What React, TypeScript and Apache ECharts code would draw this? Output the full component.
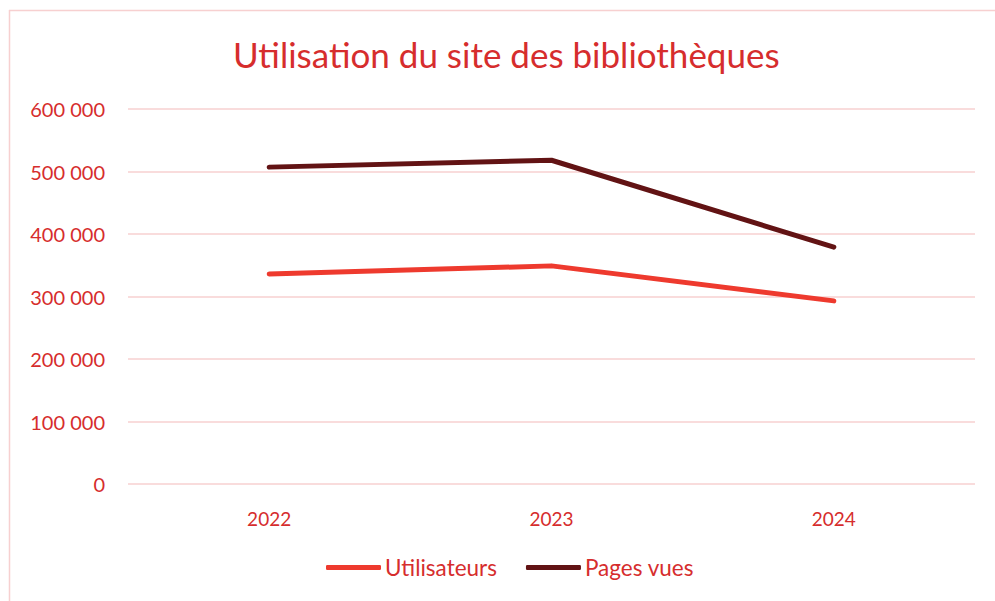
import React, { useEffect, useRef } from "react";
import * as echarts from "echarts";

const years = ["2022", "2023", "2024"];
const utilisateurs = [336000, 349000, 293000];
const pagesVues = [507000, 518000, 379000];
const yTicks = { min: 0, max: 600000, interval: 100000 };

const RED_TEXT = "#d62d2d";
const GRID = "#f7d0d0";
const FONT = "Lato";

function fmt(v: number): string {
  return String(v).replace(/\B(?=(\d{3})+(?!\d))/g, " ");
}

export default function App() {
  const ref = useRef<HTMLDivElement>(null);
  useEffect(() => {
    document.body.style.margin = "0";
    const chart = echarts.init(ref.current!, null, { renderer: "svg" });
    chart.setOption({
      animation: false,
      backgroundColor: "#ffffff",
      textStyle: { fontFamily: FONT },
      title: {
        text: "Utilisation du site des bibliothèques",
        left: 228,
        top: 31,
        textStyle: { color: RED_TEXT, fontSize: 35, fontWeight: "normal", fontFamily: FONT },
      },
      graphic: [
        { type: "line", shape: { x1: 9, y1: 10.5, x2: 995, y2: 10.5 }, style: { stroke: GRID, lineWidth: 1.5 } },
        { type: "line", shape: { x1: 9.5, y1: 10, x2: 9.5, y2: 601 }, style: { stroke: GRID, lineWidth: 1.5 } },
      ],
      legend: {
        bottom: 17,
        left: 321,
        itemWidth: 55,
        itemHeight: 5,
        itemGap: 29,
        icon: "roundRect",
        textStyle: { color: RED_TEXT, fontSize: 22.5, fontFamily: FONT, padding: [0, 0, 0, -1] },
        data: ["Utilisateurs", "Pages vues"],
      },
      grid: { left: 128, right: 20, top: 109, bottom: 117 },
      xAxis: {
        type: "category",
        data: years,
        boundaryGap: true,
        axisLine: { show: false },
        axisTick: { show: false },
        axisLabel: { color: RED_TEXT, fontSize: 19, margin: 25, fontFamily: FONT },
      },
      yAxis: {
        type: "value",
        min: yTicks.min,
        max: yTicks.max,
        interval: yTicks.interval,
        axisLine: { show: false },
        axisTick: { show: false },
        axisLabel: { color: RED_TEXT, fontSize: 20, margin: 23, fontFamily: FONT, formatter: (v: number) => fmt(v) },
        splitLine: { lineStyle: { color: GRID, width: 1.5 } },
      },
      series: [
        {
          name: "Utilisateurs",
          type: "line",
          data: utilisateurs,
          showSymbol: false,
          symbol: "none",
          itemStyle: { color: "#ee3a2e" },
          lineStyle: { color: "#ee3a2e", width: 5, cap: "round", join: "round" },
        },
        {
          name: "Pages vues",
          type: "line",
          data: pagesVues,
          showSymbol: false,
          symbol: "none",
          itemStyle: { color: "#621314" },
          lineStyle: { color: "#621314", width: 5, cap: "round", join: "round" },
        },
      ],
    });
    return () => chart.dispose();
  }, []);
  return <div ref={ref} style={{ width: 995, height: 601 }} />;
}
